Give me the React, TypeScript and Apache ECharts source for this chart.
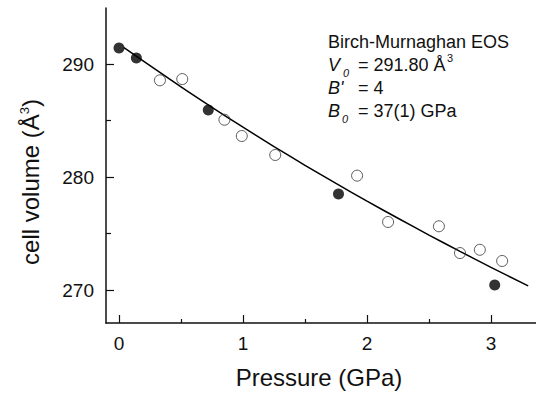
import React, { useEffect, useRef } from "react";
import * as echarts from "echarts";

const filledP = [0, 0.14, 0.72, 1.77, 3.03];
const filledV = [291.42, 290.53, 285.93, 278.5, 270.44];
const openP = [0.33, 0.51, 0.85, 0.99, 1.26, 1.92, 2.17, 2.58, 2.75, 2.91, 3.09];
const openV = [288.56, 288.67, 285.07, 283.63, 281.95, 280.12, 276.02, 275.64, 273.27, 273.56, 272.57];
const fitP = [0.04, 0.25, 0.5, 0.75, 1.0, 1.25, 1.5, 1.75, 2.0, 2.25, 2.5, 2.75, 3.0, 3.3];
const fitV = [291.45, 289.86, 287.98, 286.17, 284.41, 282.7, 281.04, 279.43, 277.86, 276.35, 274.86, 273.42, 272.01, 270.37];
const xMajor = [0, 1, 2, 3];
const xMinor = [0.5, 1.5, 2.5];
const yMajor = [270, 280, 290];
const yMinor = [275, 285];

const FONT = "'Liberation Sans', Arial, Helvetica, sans-serif";
const INK = "#111";

export default function App() {
  const ref = useRef<HTMLDivElement>(null);
  useEffect(() => {
    const chart = echarts.init(ref.current!, null, { renderer: "svg" });
    const axisCommon = {
      type: "value" as const,
      splitLine: { show: false },
    };
    const option: any = {
      animation: false,
      backgroundColor: "#fff",
      grid: { left: 106, top: 8, right: 0, bottom: 70 },
      xAxis: [
        {
          ...axisCommon,
          min: -0.105,
          max: 3.363,
          position: "bottom",
          axisLine: { show: true, onZero: false, lineStyle: { color: INK, width: 1.5 } },
          axisTick: { show: true, inside: true, length: 8, customValues: xMajor, lineStyle: { color: INK, width: 1.2 } },
          axisLabel: { customValues: xMajor, fontSize: 19, fontFamily: FONT, color: INK, margin: 11 },
        },
        {
          ...axisCommon,
          min: -0.105,
          max: 3.363,
          position: "bottom",
          axisLine: { show: false, onZero: false },
          axisTick: { show: true, inside: true, length: 4, customValues: xMinor, lineStyle: { color: INK, width: 1.2 } },
          axisLabel: { show: false },
        },
      ],
      yAxis: [
        {
          ...axisCommon,
          min: 267.08,
          max: 294.96,
          position: "left",
          axisLine: { show: true, onZero: false, lineStyle: { color: INK, width: 1.5 } },
          axisTick: { show: true, inside: true, length: 8, customValues: yMajor, lineStyle: { color: INK, width: 1.2 } },
          axisLabel: { customValues: yMajor, fontSize: 19, fontFamily: FONT, color: INK, margin: 12 },
        },
        {
          ...axisCommon,
          min: 267.08,
          max: 294.96,
          position: "left",
          axisLine: { show: false, onZero: false },
          axisTick: { show: true, inside: true, length: 5, customValues: yMinor, lineStyle: { color: INK, width: 1.2 } },
          axisLabel: { show: false },
        },
      ],
      series: [
        {
          type: "line",
          data: fitP.map((p, i) => [p, fitV[i]]),
          showSymbol: false,
          smooth: 0.3,
          lineStyle: { color: "#000", width: 1.5 },
          z: 2,
        },
        {
          type: "scatter",
          data: openP.map((p, i) => [p, openV[i]]),
          symbol: "circle",
          symbolSize: 11,
          itemStyle: { color: "rgba(255,255,255,0)", borderColor: "#333", borderWidth: 1 },
          z: 3,
        },
        {
          type: "scatter",
          data: filledP.map((p, i) => [p, filledV[i]]),
          symbol: "circle",
          symbolSize: 11,
          itemStyle: { color: "#000" },
          z: 4,
        },
      ],
      graphic: [
        {
          type: "text",
          x: 319,
          y: 377,
          style: { text: "Pressure (GPa)", fontSize: 24, fontFamily: FONT, fill: INK, align: "center", verticalAlign: "middle" },
        },
        {
          type: "text",
          x: 30,
          y: 182,
          rotation: Math.PI / 2,
          style: {
            text: "{a|cell volume (Å}{s|3}{a|)}",
            align: "center",
            verticalAlign: "middle",
            fill: INK,
            rich: {
              a: { fontSize: 24, fontFamily: FONT, fill: INK },
              s: { fontSize: 13, fontFamily: FONT, fill: INK, verticalAlign: "top" },
            },
          },
        },
        { type: "text", x: 328, y: 42, style: { text: "Birch-Murnaghan EOS", fontSize: 18, fontFamily: FONT, fill: INK, verticalAlign: "middle" } },
        { type: "text", x: 328, y: 65, style: { text: "V", fontSize: 18, fontStyle: "italic", fontFamily: FONT, fill: INK, verticalAlign: "middle" } },
        { type: "text", x: 343, y: 73, style: { text: "0", fontSize: 11, fontStyle: "italic", fontFamily: FONT, fill: INK, verticalAlign: "middle" } },
        { type: "text", x: 358, y: 65, style: { text: "= 291.80 Å", fontSize: 18, fontFamily: FONT, fill: INK, verticalAlign: "middle" } },
        { type: "text", x: 447, y: 58, style: { text: "3", fontSize: 11, fontFamily: FONT, fill: INK, verticalAlign: "middle" } },
        { type: "text", x: 328, y: 88, style: { text: "B'", fontSize: 18, fontStyle: "italic", fontFamily: FONT, fill: INK, verticalAlign: "middle" } },
        { type: "text", x: 358, y: 88, style: { text: "= 4", fontSize: 18, fontFamily: FONT, fill: INK, verticalAlign: "middle" } },
        { type: "text", x: 328, y: 111, style: { text: "B", fontSize: 18, fontStyle: "italic", fontFamily: FONT, fill: INK, verticalAlign: "middle" } },
        { type: "text", x: 342, y: 119, style: { text: "0", fontSize: 11, fontStyle: "italic", fontFamily: FONT, fill: INK, verticalAlign: "middle" } },
        { type: "text", x: 358, y: 111, style: { text: "= 37(1) GPa", fontSize: 18, fontFamily: FONT, fill: INK, verticalAlign: "middle" } },
      ],
    };
    chart.setOption(option);
    return () => chart.dispose();
  }, []);
  return (
    <div
      ref={ref}
      style={{ position: "fixed", left: 0, top: 0, width: 536, height: 393 }}
    />
  );
}
